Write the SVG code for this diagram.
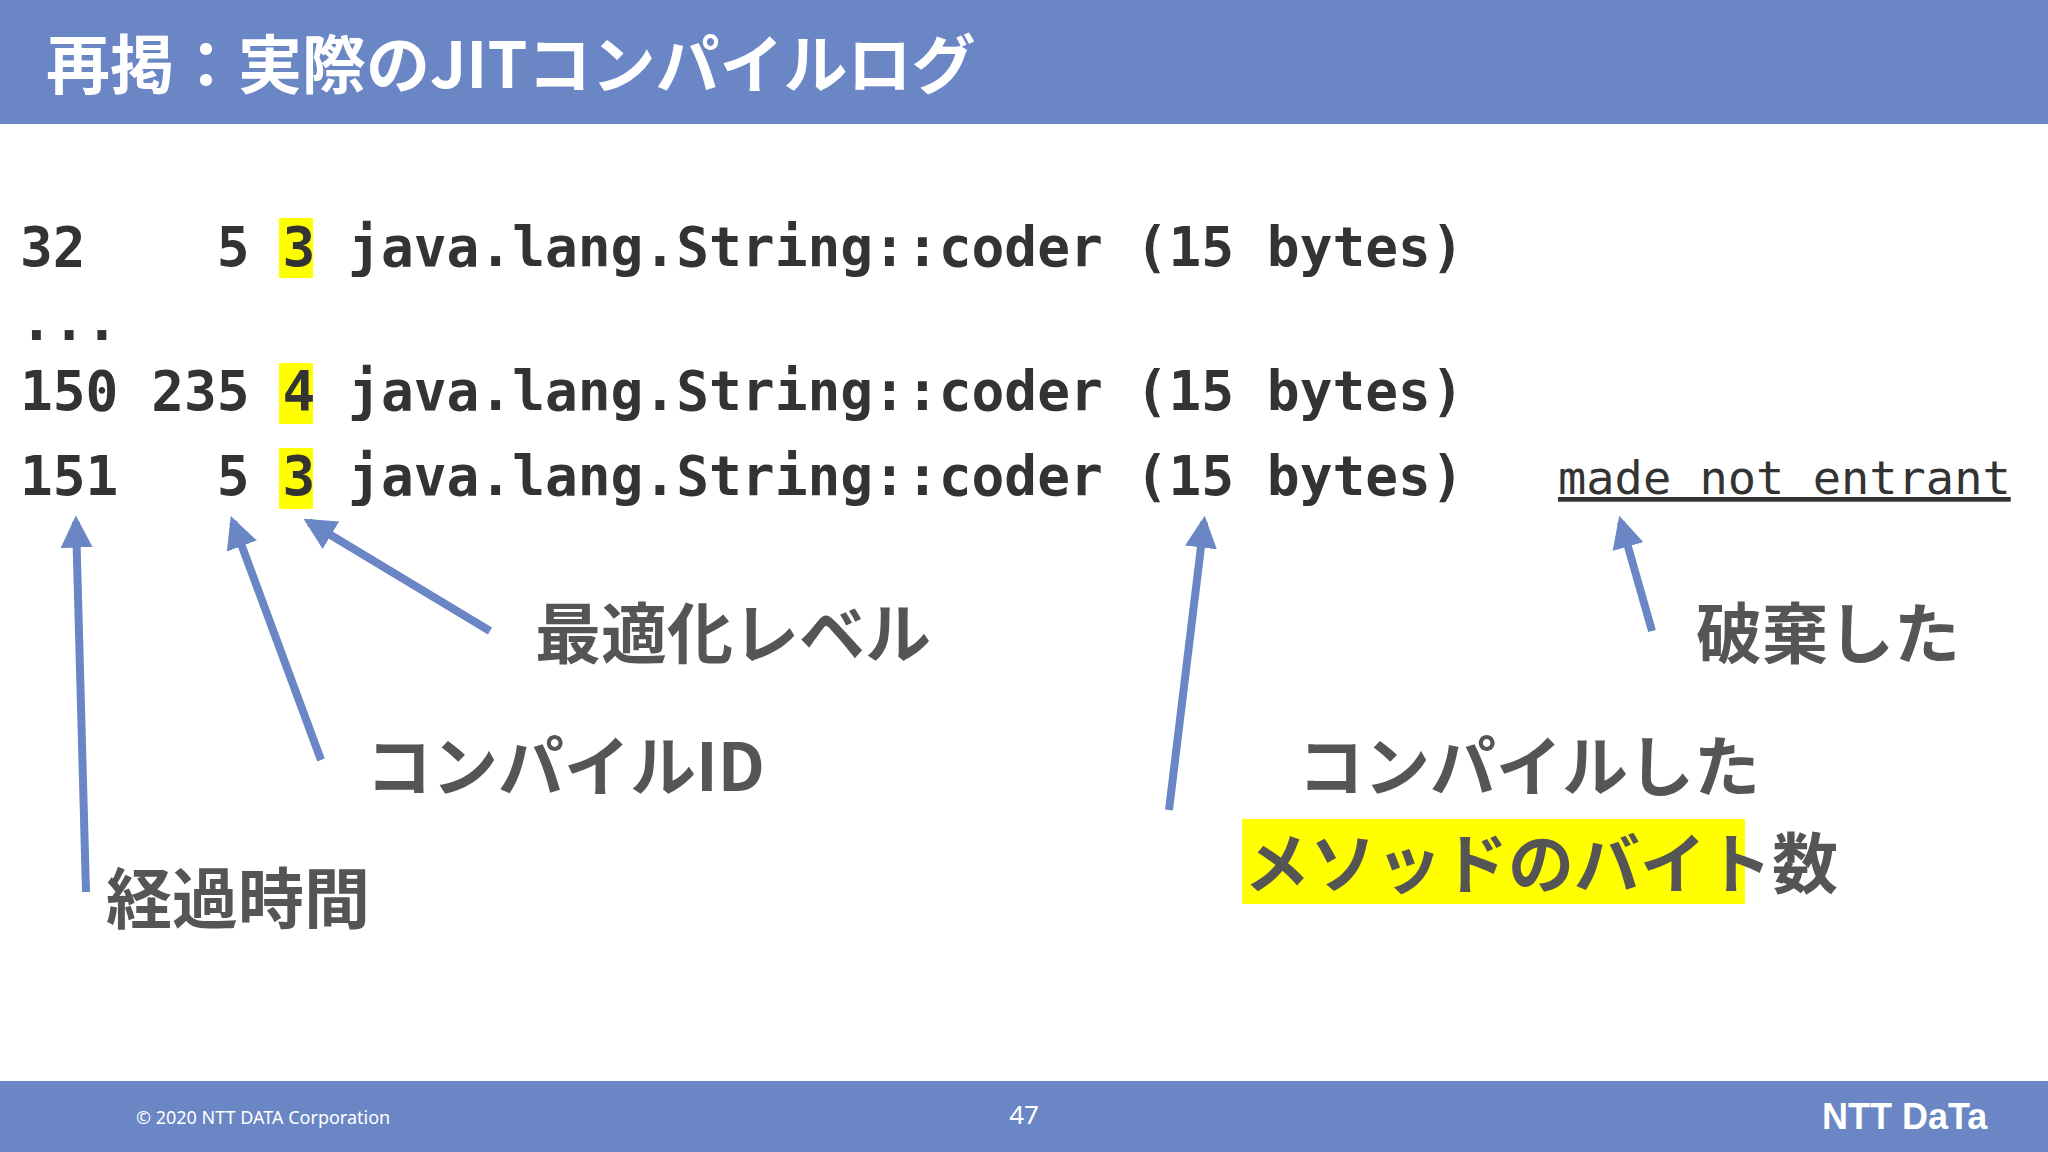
<svg xmlns="http://www.w3.org/2000/svg" width="2048" height="1152" viewBox="0 0 2048 1152">
<style>
.code{font-family:"DejaVu Sans Mono",monospace;font-weight:bold;font-size:54.5px;fill:#333}
.lbl{font-family:"Noto Sans CJK JP","Noto Sans",sans-serif;font-weight:bold;font-size:66px;fill:#555}
.arr{stroke:#6a86c4;stroke-width:8;fill:none;marker-end:url(#ah)}
.hl{fill:#ffff00}
</style>
<defs><marker id="ah" viewBox="0 0 10 10" refX="8" refY="5" markerWidth="4" markerHeight="4" orient="auto"><path d="M0,0L10,5L0,10z" fill="#6a86c4"/></marker></defs>
<rect width="2048" height="1152" fill="#fff"/>
<g id="header"><rect width="2048" height="124" fill="#6a86c4"/>
<text x="46" y="88" font-family="Noto Sans CJK JP,sans-serif" font-weight="bold" font-size="64" fill="#fff">再掲：実際のJITコンパイルログ</text></g>
<g id="code">
<rect class="hl" x="279" y="218" width="34" height="60"/>
<rect class="hl" x="279" y="363" width="34" height="61"/>
<rect class="hl" x="279" y="448" width="34" height="61"/>
<text class="code" x="20" y="266" xml:space="preserve">32    5 3 java.lang.String::coder (15 bytes)</text>
<text class="code" x="20" y="340" xml:space="preserve">...</text>
<text class="code" x="20" y="410" xml:space="preserve">150 235 4 java.lang.String::coder (15 bytes)</text>
<text class="code" x="20" y="495" xml:space="preserve">151   5 3 java.lang.String::coder (15 bytes)</text>
<text x="1558" y="494" font-family="DejaVu Sans Mono,monospace" font-size="47" fill="#333" text-decoration="underline">made not entrant</text>
</g>
<g id="connectors">
<line class="arr" x1="86" y1="892" x2="76" y2="522"/>
<line class="arr" x1="321" y1="760" x2="233" y2="522"/>
<line class="arr" x1="490" y1="631" x2="309" y2="522"/>
<line class="arr" x1="1169" y1="810" x2="1204" y2="522"/>
<line class="arr" x1="1652" y1="631" x2="1621" y2="522"/>
</g>
<g id="n1"><text class="lbl" x="535" y="658">最適化レベル</text></g>
<g id="n2"><text class="lbl" x="366" y="791">コンパイルID</text></g>
<g id="n3"><text class="lbl" x="106" y="923">経過時間</text></g>
<g id="n4"><text class="lbl" x="1696" y="658">破棄した</text></g>
<g id="n5"><text class="lbl" x="1298" y="791">コンパイルした</text>
<rect class="hl" x="1242" y="819" width="503" height="85"/>
<text class="lbl" x="1244" y="888">メソッドのバイト数</text></g>
<g id="footer"><rect y="1081" width="2048" height="71" fill="#6a86c4"/>
<text x="136" y="1124" font-family="Noto Sans,sans-serif" font-size="18" fill="#fff">© 2020 NTT DATA Corporation</text>
<text x="1024" y="1124" text-anchor="middle" font-family="Noto Sans,sans-serif" font-size="26" fill="#fff">47</text>
<text x="1822" y="1129" font-family="Liberation Sans,sans-serif" font-weight="bold" font-size="36" fill="#fff">NTT DaTa</text></g>
</svg>
